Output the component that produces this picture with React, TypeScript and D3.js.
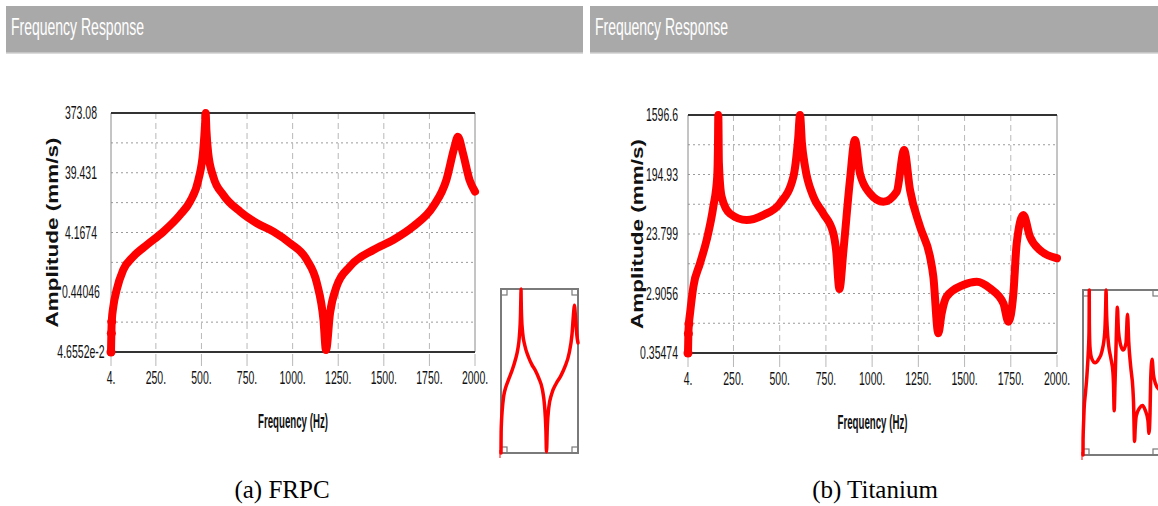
import React from 'react';
import * as d3 from 'd3';

// shared x ticks (Hz)
const xTicks = [4, 250, 500, 750, 1000, 1250, 1500, 1750, 2000];
const xTickLabels = ['4.', '250.', '500.', '750.', '1000.', '1250.', '1500.', '1750.', '2000.'];

// (a) FRPC
const frpcFreq = [4, 6, 8, 17, 35, 71, 126, 200, 291, 382, 437, 483, 510, 520, 523, 527, 537, 565, 620, 713, 804, 895, 986, 1078, 1133, 1169, 1183, 1205, 1241, 1314, 1442, 1551, 1660, 1770, 1843, 1888, 1906, 1934, 1970, 2000];
const frpcAmp = [0.0466, 0.094, 0.146, 0.26, 0.48, 1.02, 1.68, 2.6, 4.3, 8.05, 13.3, 30, 93, 250, 373, 200, 82, 34, 17.1, 9.1, 5.9, 4.3, 2.78, 1.49, 0.62, 0.156, 0.05, 0.2, 0.545, 1.16, 2.16, 3.15, 5.2, 11, 30, 105, 153, 82, 30, 19.4];
const frpcYLabels = ['373.08', '39.431', '4.1674', '0.44046', '4.6552e-2'];
const frpcYDomain = [0.046552, 373.08];

// (b) Titanium
const tiFreq = [4, 6, 9, 15, 33, 69, 105, 141, 162, 166, 168, 171, 186, 231, 321, 411, 501, 574, 600, 610, 620, 637, 682, 736, 790, 805, 823, 845, 880, 907, 934, 988, 1061, 1133, 1173, 1205, 1259, 1313, 1331, 1358, 1376, 1403, 1493, 1566, 1638, 1710, 1737, 1764, 1782, 1818, 1854, 1908, 2000];
const tiAmp = [0.355, 0.7, 1.0, 1.44, 3.69, 8.4, 19.3, 62.5, 180, 500, 1596, 300, 89, 49, 39, 46.5, 70, 180, 700, 1596, 600, 257, 89, 49, 24.4, 13.5, 3.4, 13.5, 160, 661, 203, 100, 74.5, 106, 463, 113, 30.8, 10.7, 5.3, 0.71, 1.44, 2.6, 3.92, 4.4, 3.48, 2.05, 1.07, 2.9, 17.1, 46.5, 21.6, 13.5, 10.1];
const tiYLabels = ['1596.6', '194.93', '23.799', '2.9056', '0.35474'];
const tiYDomain = [0.35474, 1596.6];

const RED = '#ff0000';
const NARROW = '"Liberation Sans Narrow", "Liberation Sans", Arial, sans-serif';

interface PanelProps {
  barX: number;
  barW: number;
  plot: { left: number; top: number; right: number; bottom: number };
  inset: { left: number; top: number; right: number; bottom: number };
  freq: number[];
  amp: number[];
  yDomain: number[];
  yLabels: string[];
  yLabelX: number;
  yLabelAnchor: 'middle' | 'end';
  yTitleX: number;
  caption: string;
  captionX: number;
}

const Panel: React.FC<PanelProps> = (p) => {
  const { plot, inset } = p;
  const pts = p.freq.map((f, i) => ({ f, a: p.amp[i] }));

  const x = d3.scaleLinear().domain([4, 2000]).range([plot.left, plot.right]);
  const y = d3.scaleLog().domain(p.yDomain).range([plot.bottom, plot.top]);
  const line = d3.line<{ f: number; a: number }>()
    .x(d => x(d.f))
    .y(d => y(d.a))
    .curve(d3.curveMonotoneX);

  const xi = d3.scaleLinear().domain([4, 2000]).range([inset.left, inset.right]);
  const yi = d3.scaleLog().domain(p.yDomain).range([inset.bottom, inset.top]);
  const lineInset = d3.line<{ f: number; a: number }>()
    .x(d => xi(d.f))
    .y(d => yi(d.a))
    .curve(d3.curveMonotoneX);

  // 8 equal log divisions, labels on every other one
  const gridY = d3.range(9).map(i => plot.top + (i * (plot.bottom - plot.top)) / 8);
  const cx = (plot.left + plot.right) / 2;
  const cy = (plot.top + plot.bottom) / 2;
  const sq = 6;

  return (
    <g>
      {/* header bar */}
      <rect x={p.barX} y={6} width={p.barW} height={47} fill="#a9a9a9" />
      <line x1={p.barX} x2={p.barX + p.barW} y1={53} y2={53} stroke="#cfcfcf" strokeWidth={1.5} />
      <text transform={`translate(${p.barX + 5},35) scale(1,1.3)`} fill="#ffffff" fontFamily={NARROW} fontSize={18}
        textLength={133} lengthAdjust="spacingAndGlyphs">Frequency Response</text>

      {/* grid */}
      {gridY.slice(1, 8).map((gy, i) => (
        <line key={'h' + i} x1={plot.left} x2={plot.right} y1={gy} y2={gy}
          stroke="#9a9a9a" strokeWidth={1} strokeDasharray="2,3" />
      ))}
      {xTicks.slice(1, 8).map(t => (
        <line key={'v' + t} x1={x(t)} x2={x(t)} y1={plot.top} y2={plot.bottom}
          stroke="#b8b8b8" strokeWidth={1} strokeDasharray="6,4" />
      ))}
      {xTicks.map(t => (
        <line key={'t' + t} x1={x(t)} x2={x(t)} y1={plot.bottom + 2} y2={plot.bottom + 14}
          stroke="#b8b8b8" strokeWidth={1} />
      ))}

      {/* frame */}
      <line x1={plot.left} x2={plot.left} y1={plot.top} y2={plot.bottom} stroke="#8a8a8a" strokeWidth={1} />
      <line x1={plot.right} x2={plot.right} y1={plot.top} y2={plot.bottom} stroke="#8a8a8a" strokeWidth={1} />
      <line x1={plot.left} x2={plot.right} y1={plot.top} y2={plot.top} stroke="#333" strokeWidth={2} />
      <line x1={plot.left} x2={plot.right} y1={plot.bottom} y2={plot.bottom} stroke="#333" strokeWidth={2} />

      {/* curve */}
      <path d={line(pts) || ''} fill="none" stroke={RED} strokeWidth={8}
        strokeLinejoin="round" strokeLinecap="round" />
      {pts.slice(0, 3).map((d, i) => (
        <circle key={'m' + i} cx={x(d.f)} cy={y(d.a)} r={4.5} fill={RED} />
      ))}

      {/* y tick labels */}
      {p.yLabels.map((lab, i) => (
        <text key={lab} transform={`translate(${p.yLabelX},${gridY[i * 2] + 6}) scale(1,1.75)`}
          textAnchor={p.yLabelAnchor} fontFamily={NARROW} fontSize={10.5} fill="#111">{lab}</text>
      ))}
      {/* x tick labels */}
      {xTicks.map((t, i) => (
        <text key={'xl' + t} transform={`translate(${x(t)},${plot.bottom + 32}) scale(1,1.75)`}
          textAnchor="middle" fontFamily={NARROW} fontSize={10.5} fill="#111">{xTickLabels[i]}</text>
      ))}

      {/* axis titles */}
      <text transform={`translate(${p.yTitleX + 5},${cy}) rotate(-90)`} textAnchor="middle"
        fontFamily='"Liberation Sans", Arial, sans-serif' fontWeight="bold" fontSize={16}
        textLength={190} lengthAdjust="spacingAndGlyphs" fill="#111">Amplitude (mm/s)</text>
      <text transform={`translate(${cx},${plot.bottom + 76}) scale(1,1.5)`} textAnchor="middle"
        fontFamily={NARROW} fontWeight="bold" fontSize={13} textLength={70}
        lengthAdjust="spacingAndGlyphs" fill="#111">Frequency (Hz)</text>

      {/* thumbnail inset */}
      <rect x={inset.left} y={inset.top} width={inset.right - inset.left} height={inset.bottom - inset.top}
        fill="#ffffff" stroke="#7a7a7a" strokeWidth={2} />
      {[[inset.left, inset.top], [inset.right - sq, inset.top], [inset.left, inset.bottom - sq], [inset.right - sq, inset.bottom - sq]].map(([qx, qy], i) => (
        <rect key={'sq' + i} x={qx} y={qy} width={sq} height={sq} fill="none" stroke="#7a7a7a" strokeWidth={1.2} />
      ))}
      <path d={lineInset(pts) || ''} fill="none" stroke={RED} strokeWidth={3.5}
        strokeLinejoin="round" strokeLinecap="round" />
      <line x1={inset.left - 1} x2={inset.left - 1} y1={inset.bottom - 3} y2={inset.bottom + 5} stroke={RED} strokeWidth={1} />

      {/* caption */}
      <text x={p.captionX} y={498} textAnchor="middle"
        fontFamily='"Liberation Serif", "Times New Roman", serif' fontSize={25} fill="#000">{p.caption}</text>
    </g>
  );
};

const App: React.FC = () => {
  return (
    <div style={{ position: 'absolute', left: 0, top: 0 }}>
      <svg width={1158} height={506} viewBox="0 0 1158 506" style={{ display: 'block', background: '#ffffff' }}>
        <Panel
          barX={6} barW={577}
          plot={{ left: 111, top: 113, right: 475, bottom: 352 }}
          inset={{ left: 501, top: 289, right: 578, bottom: 453 }}
          freq={frpcFreq} amp={frpcAmp} yDomain={frpcYDomain} yLabels={frpcYLabels}
          yLabelX={81} yLabelAnchor="middle" yTitleX={53}
          caption="(a) FRPC" captionX={282}
        />
        <Panel
          barX={590} barW={568}
          plot={{ left: 688, top: 115, right: 1057, bottom: 353 }}
          inset={{ left: 1083, top: 290, right: 1159, bottom: 455 }}
          freq={tiFreq} amp={tiAmp} yDomain={tiYDomain} yLabels={tiYLabels}
          yLabelX={678} yLabelAnchor="end" yTitleX={638}
          caption="(b) Titanium" captionX={875}
        />
      </svg>
    </div>
  );
};

export default App;
